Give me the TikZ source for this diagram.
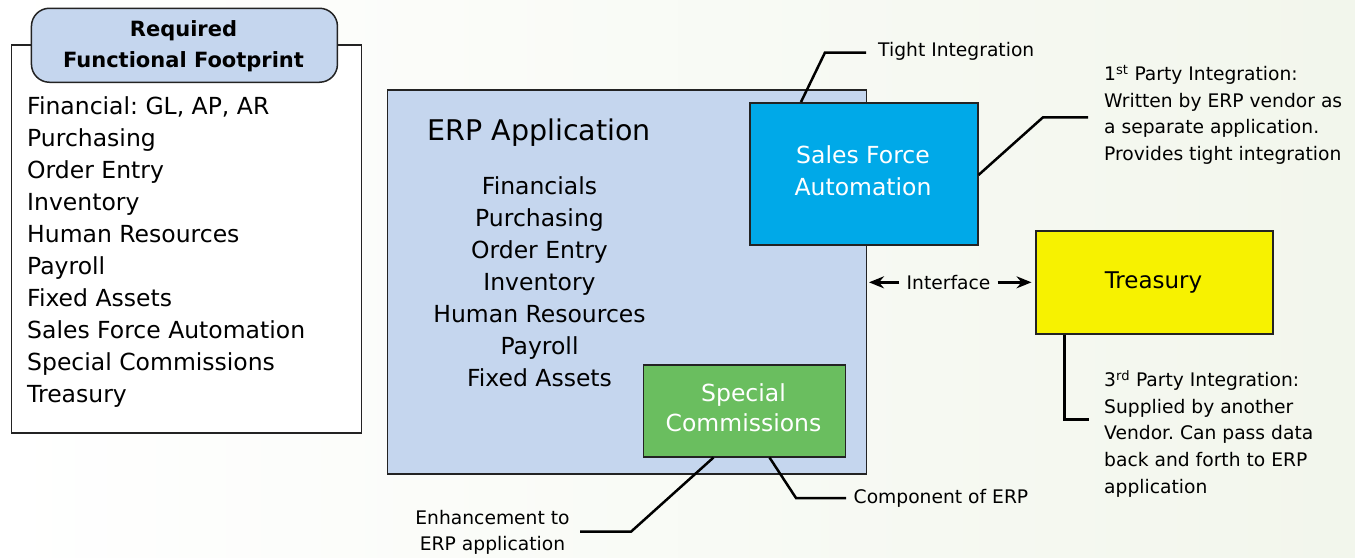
\documentclass[tikz,border=0pt]{standalone}
\usepackage{fontspec}
\setmainfont{DejaVu Sans}
\usetikzlibrary{arrows.meta}
\definecolor{bgR}{RGB}{242,246,236}
\definecolor{lblue}{RGB}{197,214,238}
\definecolor{sfacol}{RGB}{0,169,232}
\definecolor{grncol}{RGB}{106,190,95}
\definecolor{yelcol}{RGB}{247,242,0}
\definecolor{edgecol}{RGB}{35,35,35}
\frenchspacing
\begin{document}
\begin{tikzpicture}[x=1pt,y=-1pt,
  box/.style={draw=edgecol,line width=1.5pt,inner sep=0pt},
  lbl/.style={inner sep=0pt,anchor=base west,font=\fontsize{18.7}{22}\selectfont},
  lst/.style={inner sep=0pt,anchor=base west,font=\fontsize{23.5}{28}\selectfont},
  ctr/.style={inner sep=0pt,anchor=base,font=\fontsize{23.5}{28}\selectfont},
  hdrtxt/.style={inner sep=0pt,anchor=base,font=\fontsize{21}{25}\selectfont\bfseries},
  lead/.style={line width=2.5pt,line join=miter},
  arr/.style={line width=2.5pt,-{Stealth[length=15pt,width=12pt,inset=5pt]}},
  ]
\useasboundingbox (0,0) rectangle (1355,557);
\fill[left color=white,right color=bgR] (0,0) rectangle (1355,557);

% left footprint box
\node[box,fill=white,minimum width=350pt,minimum height=388pt,anchor=north west] (fp) at (10.5,44) {};
\node[box,fill=lblue,rounded corners=18pt,minimum width=306pt,minimum height=74pt,anchor=north west] (hdr) at (30.7,7.5) {};
\node[hdrtxt] (h1) at (183.5,36.7) {Required};
\node[hdrtxt] (h2) at (183.5,67.3) {Functional Footprint};
\foreach \t [count=\i from 0] in {{Financial: GL, AP, AR},Purchasing,Order Entry,Inventory,Human Resources,Payroll,Fixed Assets,Sales Force Automation,Special Commissions,Treasury}
  \node[lst] (fl\i) at (27,114+32*\i) {\t};

% ERP application
\node[box,fill=lblue,minimum width=479pt,minimum height=384pt,anchor=north west] (erp) at (386.5,89) {};
\node[inner sep=0pt,anchor=base west,font=\fontsize{28.5}{32}\selectfont] (erpt) at (427.5,140.7) {ERP Application};
\foreach \t [count=\i from 0] in {Financials,Purchasing,Order Entry,Inventory,Human Resources,Payroll,Fixed Assets}
  \node[ctr] (el\i) at (539.5,194.5+32*\i) {\t};

% Sales Force Automation
\node[box,fill=sfacol,minimum width=228pt,minimum height=142pt,anchor=north west] (sfa) at (749,102) {};
\node[ctr,text=white] (sfa1) at (863,163.5) {Sales Force};
\node[ctr,text=white] (sfa2) at (863,195.7) {Automation};

% Special Commissions
\node[box,fill=grncol,minimum width=202pt,minimum height=92pt,anchor=north west] (com) at (642.5,364) {};
\node[ctr,text=white] (com1) at (743.5,401.5) {Special};
\node[ctr,text=white] (com2) at (743.5,431.7) {Commissions};

% Treasury
\node[box,fill=yelcol,minimum width=237pt,minimum height=103pt,anchor=north west] (tre) at (1035,230) {};
\node[inner sep=0pt,anchor=base,font=\fontsize{23}{28}\selectfont] (tret) at (1153.5,288.3) {Treasury};

% Interface
\node[lbl,anchor=base,inner xsep=7pt] (ifc) at (948.5,289.3) {Interface};
\draw[arr,shorten >=2pt] (ifc.west) -- (erp.east |- ifc.west);
\draw[arr,shorten >=3.5pt] (ifc.east) -- (tre.west |- ifc.east);

% Tight integration callout
\coordinate (tiend) at (866,52.5);
\draw[lead] ([xshift=52pt]sfa.north west) -- (825,52.5) -- (tiend);
\node[lbl] (tit) at (878,56.7) {Tight Integration};

% 1st party callout
\coordinate (p1end) at (1088,117.3);
\draw[lead] ([yshift=-73pt]sfa.north east) -- (1043,117.3) -- (p1end);
\node[lbl] (p1a) at (1104,80.5) {1\textsuperscript{st} Party Integration:};
\node[lbl] (p1b) at (1104,107.2) {Written by ERP vendor as};
\node[lbl] (p1c) at (1104,133.9) {a separate application.};
\node[lbl] (p1d) at (1104,160.6) {Provides tight integration};

% 3rd party callout
\coordinate (p3end) at (1089,419.3);
\draw[lead] ([xshift=29.3pt]tre.south west) |- (p3end);
\node[lbl] (p3a) at (1104,386.7) {3\textsuperscript{rd} Party Integration:};
\node[lbl] (p3b) at (1104,413.3) {Supplied by another};
\node[lbl] (p3c) at (1104,439.9) {Vendor. Can pass data};
\node[lbl] (p3d) at (1104,466.5) {back and forth to ERP};
\node[lbl] (p3e) at (1104,493.1) {application};

% Component of ERP
\coordinate (ceend) at (846,498);
\draw[lead] ([xshift=127pt]com.south west) -- (796,498) -- (ceend);
\node[lbl] (cet) at (853.5,503) {Component of ERP};

% Enhancement
\coordinate (enend) at (580,531.7);
\draw[lead] ([xshift=71pt]com.south west) -- (631,531.7) -- (enend);
\node[lbl,anchor=base] (en1) at (492.5,524) {Enhancement to};
\node[lbl,anchor=base] (en2) at (492.5,550.5) {ERP application};
\end{tikzpicture}
\end{document}
